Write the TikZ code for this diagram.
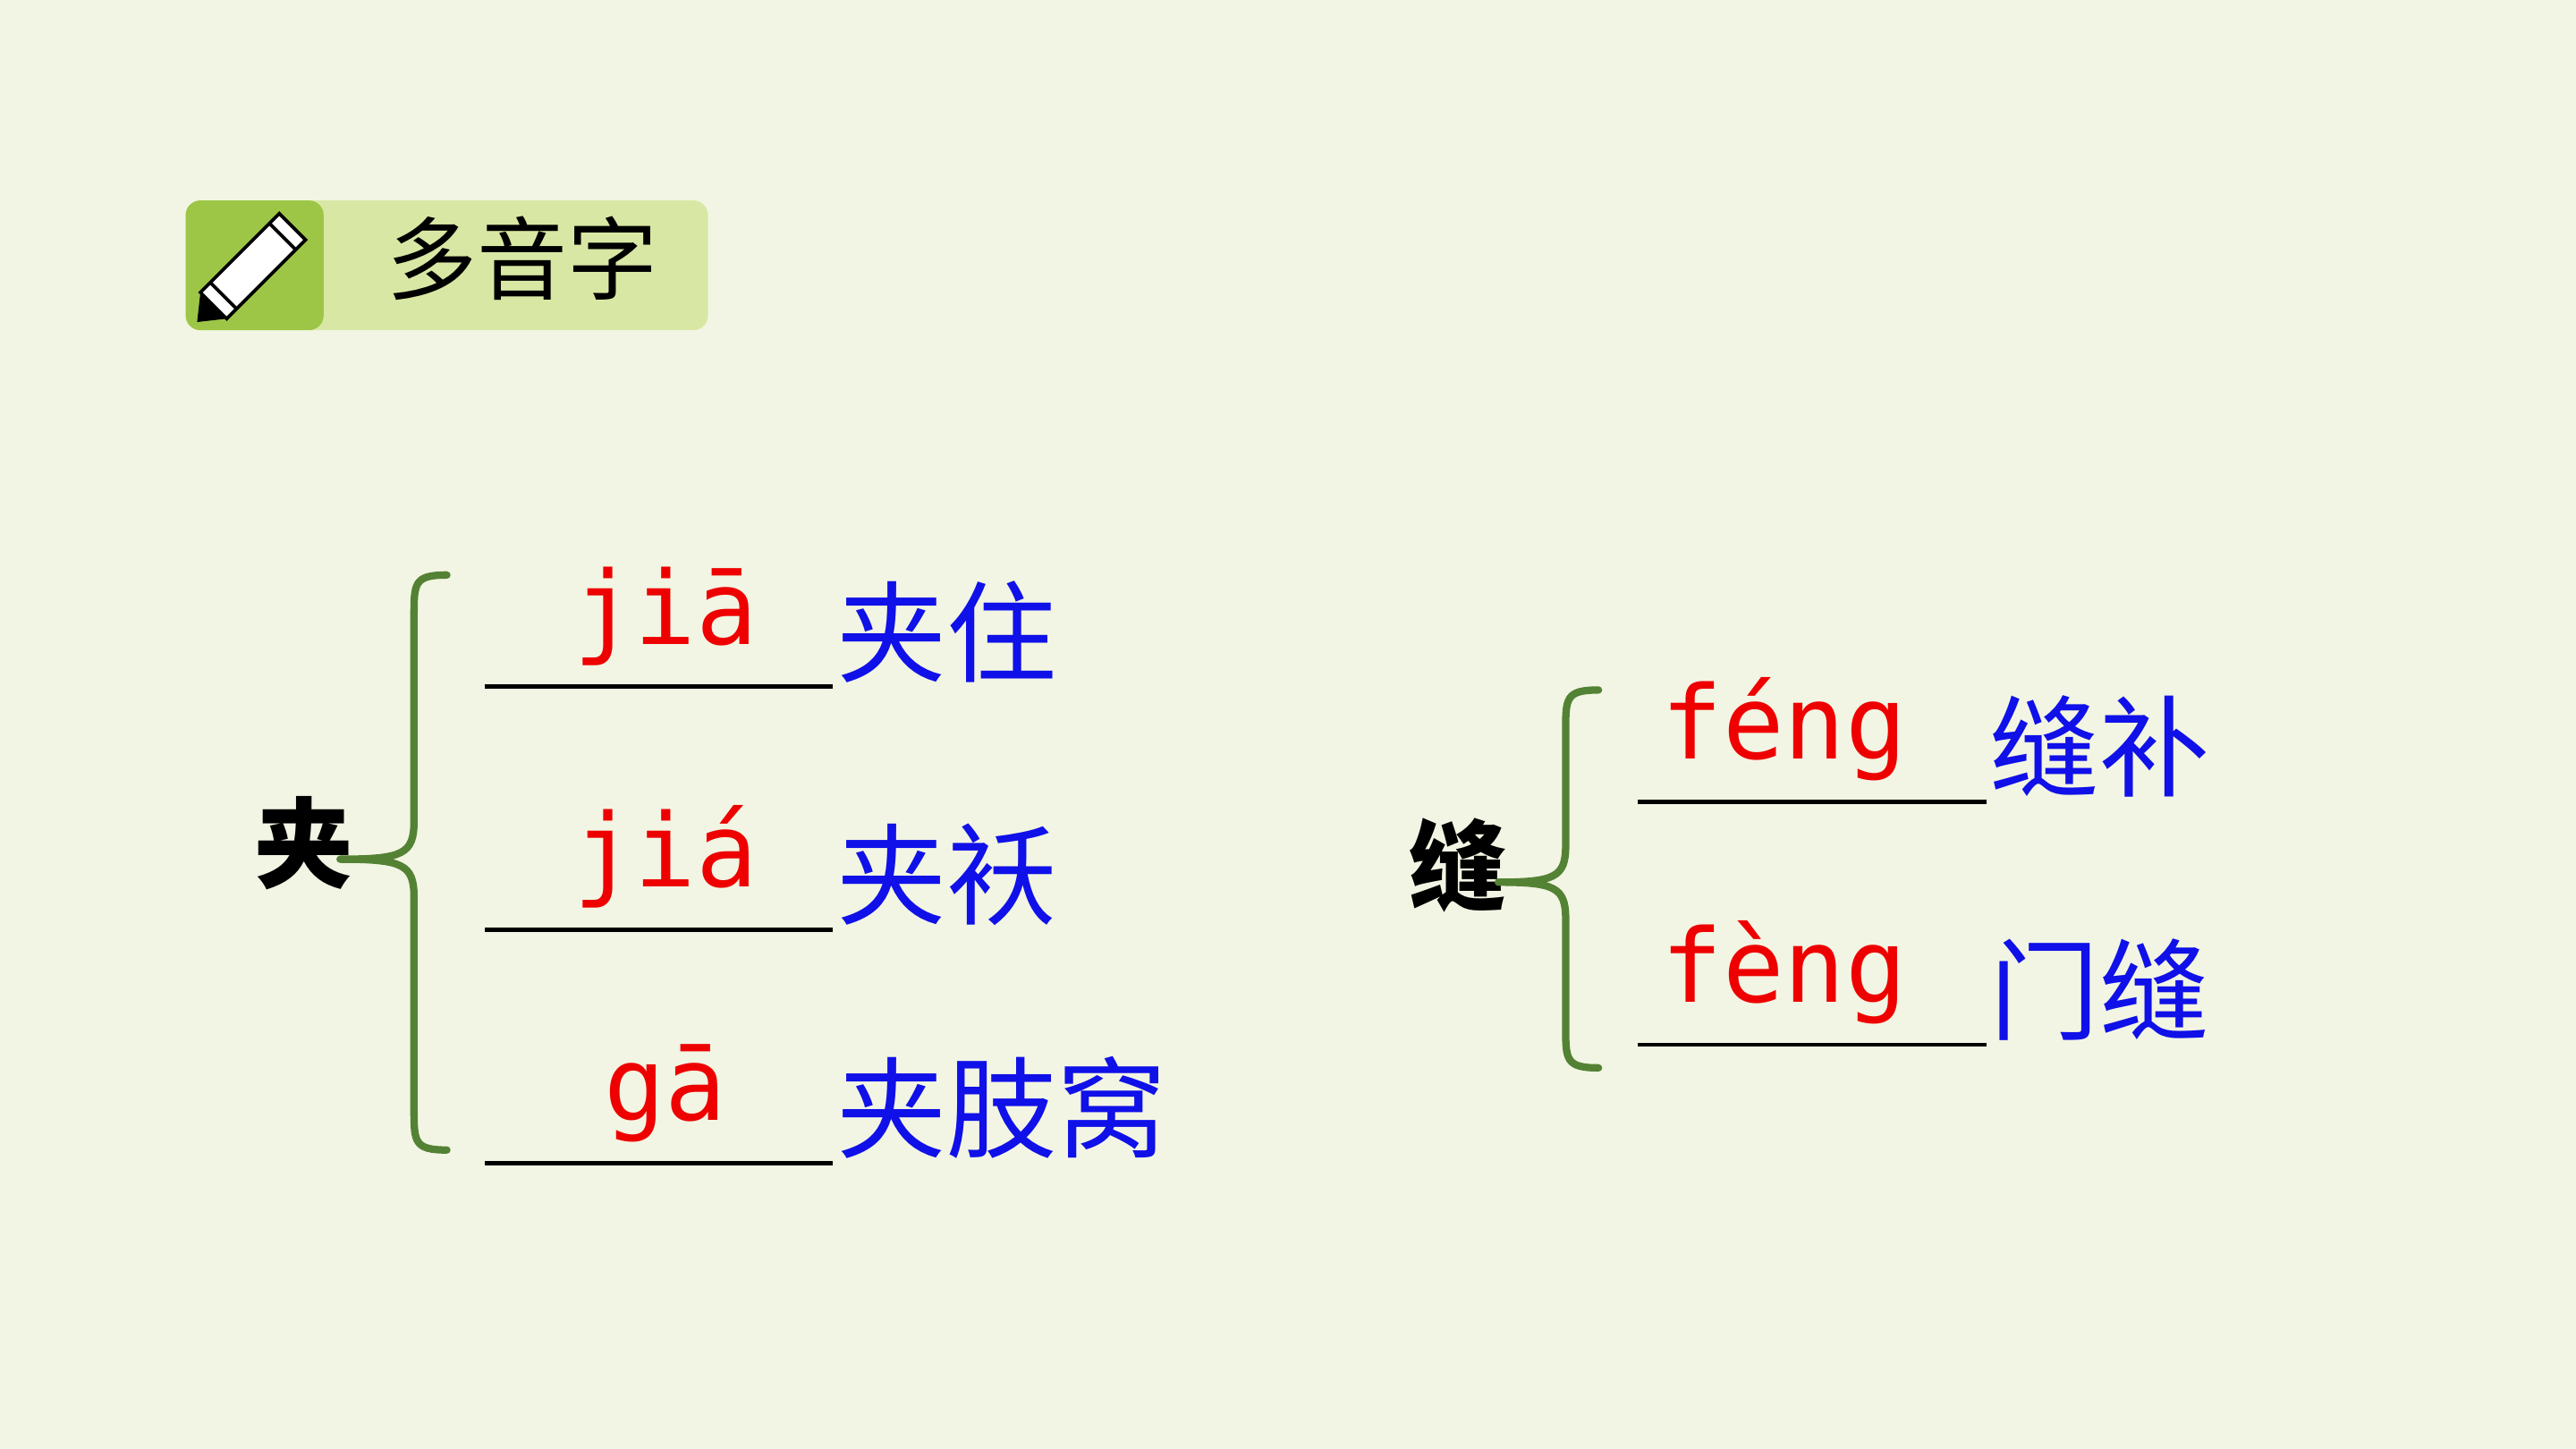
\documentclass[tikz,border=0pt]{standalone}
\usepackage{fontspec}
\newfontfamily\cjk{Noto Sans CJK SC}
\newfontfamily\pyfont{DejaVu Sans Mono}
\definecolor{bg}{HTML}{F2F5E3}
\definecolor{brc}{HTML}{548235}
\definecolor{hdr}{HTML}{D8E8A4}
\definecolor{hdrd}{HTML}{9DC646}
\definecolor{blu}{HTML}{1010E8}
\definecolor{rd}{HTML}{EE0000}
\begin{document}
\begin{tikzpicture}[x=1pt,y=-1pt,
  py/.style={font=\pyfont\fontsize{62}{62}\selectfont, text=rd, anchor=base},
  wd/.style={font=\cjk\fontsize{67}{67}\selectfont, text=blu, anchor=base west, inner sep=0},
  hd/.style={font=\cjk\bfseries\fontsize{60}{60}\selectfont, text=black},
  ul/.style={line width=2.5pt, black},
  br/.style={line width=4.5pt, brc, line cap=round, line join=round}]
\fill[bg] (0,0) rectangle (1568,882);
\useasboundingbox (0,0) rectangle (1568,882);
% header
\fill[hdr, rounded corners=9] (113,122) rectangle (431,201);
\fill[hdrd, rounded corners=9] (113,122) rectangle (197,201);
\node[font=\cjk\fontsize{55}{55}\selectfont] (title) at (318,157) {多音字};
% pencil
\begin{scope}[line width=2pt, black]
\draw[fill=white] (122,178) -- (170,130) -- (186,146) -- (138,194) -- cycle;
\draw (164,136) -- (180,152);
\fill (122,178) -- (120,196) -- (138,194) -- (130,186) -- cycle;
\draw (128,172) -- (144,188);
\end{scope}
% left
\node[hd] (jia) at (185,513) {夹};
\coordinate (lt) at (272,350); \coordinate (lb) at (272,700); \coordinate (lm) at (207,523);
\draw[br] (lt) .. controls (252,350) and (252,355) .. (252,375) -- (252,500) .. controls (252,520) and (245,523) .. (lm)
  .. controls (245,523) and (252,526) .. (252,546) -- (252,675) .. controls (252,695) and (252,700) .. (lb);
\foreach \y/\p/\w [count=\i] in {418/jiā/夹住,566/jiá/夹袄,708/gā/夹肢窝}{
  \coordinate (a\i) at (295,\y); \coordinate (b\i) at (507,\y);
  \draw[ul] (a\i) -- (b\i);
  \node[py] (p\i) at (405,\y-26) {\p};
  \node[wd] (w\i) at (509,\y-8) {\w};
}
% right
\node[hd] (feng) at (887,527) {缝};
\coordinate (rt) at (973,420); \coordinate (rb) at (973,650); \coordinate (rm) at (912,537);
\draw[br] (rt) .. controls (953,420) and (953,425) .. (953,445) -- (953,515) .. controls (953,534) and (946,537) .. (rm)
  .. controls (946,537) and (953,540) .. (953,559) -- (953,625) .. controls (953,645) and (953,650) .. (rb);
\foreach \y/\p/\w [count=\i] in {488/féng/缝补,636/fèng/门缝}{
  \coordinate (c\i) at (997,\y); \coordinate (d\i) at (1209,\y);
  \draw[ul] (c\i) -- (d\i);
  \node[py] (q\i) at (1086,\y-26) {\p};
  \node[wd] (v\i) at (1211,\y-8) {\w};
}
\end{tikzpicture}
\end{document}
